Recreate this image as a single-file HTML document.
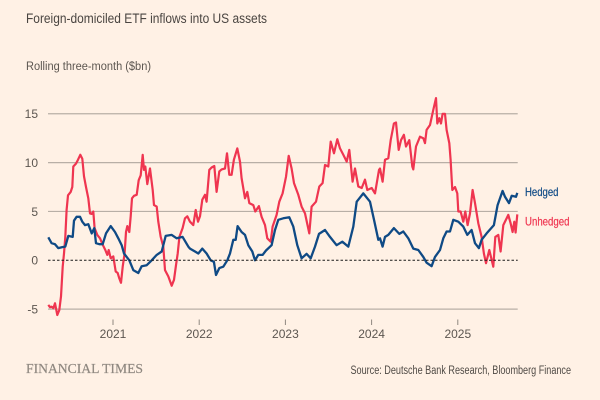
<!DOCTYPE html>
<html lang="en">
<head>
<meta charset="utf-8">
<title>Foreign-domiciled ETF inflows into US assets</title>
<style>
html,body{margin:0;padding:0;background:#fff1e5;}
svg{display:block;font-family:"Liberation Sans",sans-serif;}
</style>
</head>
<body>
<svg id="chart" width="600" height="400" viewBox="0 0 600 400" xmlns="http://www.w3.org/2000/svg">
  <rect x="0" y="0" width="600" height="400" fill="#fff1e5"/>
  <text x="26" y="23" font-size="13.5" fill="#4a4541" textLength="241" lengthAdjust="spacingAndGlyphs">Foreign-domiciled ETF inflows into US assets</text>
  <text x="26" y="70" font-size="11.5" fill="#5c5650" textLength="125" lengthAdjust="spacingAndGlyphs">Rolling three-month ($bn)</text>
  <g id="grid"></g>
  <g id="axis"></g>
  <g id="series"></g>
  <text x="525" y="196" font-size="12" fill="#0f4a85" stroke="#0f4a85" stroke-width="0.2" textLength="33.5" lengthAdjust="spacingAndGlyphs">Hedged</text>
  <text x="525" y="225.5" font-size="12" fill="#ef3550" stroke="#ef3550" stroke-width="0.2" textLength="44.5" lengthAdjust="spacingAndGlyphs">Unhedged</text>
  <text x="26" y="373" font-family="'Liberation Serif',serif" font-size="14" fill="#8f8880" stroke="#8f8880" stroke-width="0.2" textLength="117" lengthAdjust="spacingAndGlyphs">FINANCIAL TIMES</text>
  <text x="350.5" y="374" font-size="11.5" fill="#4f4a45" textLength="220.5" lengthAdjust="spacingAndGlyphs">Source: Deutsche Bank Research, Bloomberg Finance</text>
</svg>
<script>
const yTicks = [15, 10, 5, 0, -5];
const xTicks = [2021, 2022, 2023, 2024, 2025];

const unhedgedDates = [2020.25,2020.269,2020.288,2020.308,2020.327,2020.354,2020.377,2020.397,2020.416,2020.432,2020.447,2020.462,2020.478,2020.509,2020.528,2020.54,2020.571,2020.594,2020.621,2020.644,2020.664,2020.687,2020.714,2020.733,2020.753,2020.772,2020.787,2020.818,2020.849,2020.88,2020.911,2020.934,2020.95,2020.973,2021.004,2021.031,2021.054,2021.073,2021.093,2021.112,2021.135,2021.151,2021.166,2021.189,2021.205,2021.22,2021.244,2021.275,2021.298,2021.321,2021.344,2021.36,2021.375,2021.398,2021.429,2021.46,2021.476,2021.507,2021.526,2021.553,2021.584,2021.603,2021.642,2021.681,2021.708,2021.731,2021.75,2021.77,2021.808,2021.835,2021.862,2021.893,2021.932,2021.959,2021.986,2022.009,2022.036,2022.067,2022.086,2022.117,2022.144,2022.175,2022.202,2022.233,2022.26,2022.299,2022.322,2022.349,2022.376,2022.403,2022.442,2022.473,2022.492,2022.531,2022.558,2022.581,2022.628,2022.651,2022.693,2022.724,2022.763,2022.79,2022.829,2022.852,2022.898,2022.929,2022.968,2023.007,2023.038,2023.072,2023.1,2023.15,2023.188,2023.227,2023.277,2023.304,2023.355,2023.393,2023.432,2023.459,2023.498,2023.525,2023.564,2023.602,2023.633,2023.672,2023.711,2023.741,2023.78,2023.807,2023.846,2023.885,2023.923,2023.95,2024.001,2024.039,2024.086,2024.097,2024.128,2024.155,2024.194,2024.221,2024.259,2024.283,2024.314,2024.341,2024.375,2024.399,2024.437,2024.472,2024.484,2024.515,2024.561,2024.6,2024.619,2024.638,2024.677,2024.716,2024.747,2024.762,2024.785,2024.805,2024.824,2024.851,2024.87,2024.901,2024.917,2024.936,2024.967,2024.994,2025.006,2025.033,2025.064,2025.087,2025.114,2025.141,2025.172,2025.199,2025.238,2025.276,2025.303,2025.327,2025.365,2025.412,2025.435,2025.47,2025.497,2025.528,2025.586,2025.613,2025.636,2025.655,2025.671,2025.69];
const unhedgedValues = [-4.57,-4.8,-4.75,-4.9,-4.4,-5.6,-5.1,-3.7,-0.65,0.7,2.4,5.15,6.65,7,7.5,9.6,9.9,10.3,10.8,10.4,8.6,7.5,6.35,4.8,4.75,5,3.3,2.6,2.25,1.6,1.05,0.55,1.05,0.2,0.4,-1.15,-1.3,-1.85,-2.3,-0.65,0.7,2.9,3.5,2.9,4.5,6.35,6.6,6.7,8.2,8.7,10.8,9.25,9.6,7.8,9.4,7.2,5.65,5.5,3.95,2.4,1.4,-1,-1.65,-2.6,-2,-0.5,0.7,2.4,3.3,4.3,4.5,3.95,3.6,5.15,3.95,4.5,6.2,6.7,6,9.25,9.5,9.65,7,9.1,9.3,9.4,10.95,8.75,8.75,10.3,11.45,10.1,8.4,6.35,7,5.85,5.65,5,5.55,4.45,3.6,2.25,1.9,3.45,4.65,6,6.85,8.55,10.7,9.4,7.9,6.7,5.5,4.8,2.75,5.5,6,7.55,7.9,9.75,9.6,12.15,10.95,12.4,11.45,10.8,10.1,11.3,8.05,9.4,7.55,7.4,8.25,7.2,7.4,6.85,9.25,9.4,8.05,10.3,10.45,12.3,14,14.1,11.3,12.3,12.85,11.65,12.3,9.6,9.3,11.65,12.65,12.5,12,13.35,13.85,15.4,16.6,14,14.55,14,15,15,13.35,12,10.3,7.2,7.5,6.85,5,5,3.95,5,3.6,4.8,7.2,5.85,3.8,2.4,0.7,-0.3,1.05,-0.65,2.4,2.6,0.9,3.6,4.65,3.8,2.9,3.95,2.85,4.7];

const hedgedDates = [2020.25,2020.288,2020.327,2020.366,2020.412,2020.447,2020.482,2020.532,2020.548,2020.578,2020.617,2020.644,2020.675,2020.714,2020.753,2020.783,2020.803,2020.841,2020.88,2020.919,2020.973,2021.023,2021.062,2021.101,2021.128,2021.189,2021.236,2021.294,2021.333,2021.391,2021.449,2021.507,2021.565,2021.611,2021.681,2021.739,2021.808,2021.874,2021.893,2021.951,2021.99,2022.036,2022.086,2022.133,2022.171,2022.195,2022.233,2022.28,2022.326,2022.357,2022.396,2022.423,2022.446,2022.492,2022.531,2022.57,2022.616,2022.647,2022.686,2022.736,2022.775,2022.84,2022.879,2022.918,2022.976,2023.045,2023.092,2023.138,2023.188,2023.246,2023.293,2023.343,2023.39,2023.459,2023.517,2023.594,2023.66,2023.73,2023.788,2023.827,2023.904,2023.981,2024.028,2024.078,2024.097,2024.128,2024.155,2024.194,2024.259,2024.321,2024.368,2024.426,2024.484,2024.542,2024.6,2024.638,2024.696,2024.735,2024.793,2024.832,2024.87,2024.909,2024.948,2025.006,2025.064,2025.11,2025.16,2025.199,2025.245,2025.276,2025.334,2025.419,2025.462,2025.52,2025.547,2025.594,2025.625,2025.675,2025.69];
const hedgedValues = [2.35,1.75,1.65,1.25,1.35,1.4,2.5,2.4,4.05,4.45,4.45,3.95,3.6,3.7,2.75,3.3,1.75,1.65,1.65,2.75,3.5,2.9,2.25,1.55,0.7,0,-1,-1.3,-0.6,-0.5,0,0.55,0.9,2.5,2.6,2.25,2.4,1.4,1.2,0.9,0.7,1.2,0.7,0,-0.15,-1.5,-0.8,-0.65,0,0.7,2.1,2.1,3.5,2.9,2.6,1.55,0.9,0,0.55,0.55,1,1.55,3.1,4.15,4.3,4.4,3.45,1.55,0.2,0.65,0.2,1.4,2.7,3.1,2.4,1.55,1.9,1.4,3.45,6,6.85,6,4.15,2.1,2.25,1.4,2.4,2.6,3.3,2.7,2.95,2.25,1.2,1.05,0.35,-0.25,-0.6,0.35,1.05,2.25,2.95,2.95,4.15,3.95,3.45,2.6,3.1,1.75,1.25,2.1,2.75,3.6,5.65,7.1,6.5,5.85,6.6,6.5,6.9];

const NS = 'http://www.w3.org/2000/svg';
function xScale(year) { return 113 + (year - 2021) * 86.2; }
function yScale(value) { return 260.3 - value * 9.77; }
const plotLeft = xScale(2020.246);
const plotRight = xScale(2025.695);

const gridLayer = document.getElementById('grid');
const axisLayer = document.getElementById('axis');
const seriesLayer = document.getElementById('series');

function make(tag, attrs, parent) {
  const el = document.createElementNS(NS, tag);
  for (const k in attrs) el.setAttribute(k, attrs[k]);
  parent.appendChild(el);
  return el;
}

yTicks.forEach(function (t) {
  if (t !== 0) {
    const line = make('line', {x1: plotLeft, x2: plotRight, y1: yScale(t), y2: yScale(t), stroke: '#b8afa6', 'stroke-width': 1.2}, gridLayer);
    
    
  }
  const label = make('text', {x: 38, y: yScale(t) + 4.3, 'text-anchor': 'end', 'font-size': 12, fill: '#5c5650'}, axisLayer);
  label.textContent = t;
  
  
});

xTicks.forEach(function (t) {
  const tick = make('line', {x1: xScale(t), x2: xScale(t), y1: 319.5, y2: 325, stroke: '#8f8880', 'stroke-width': 1}, axisLayer);
  
  
  const label = make('text', {x: xScale(t), y: 338, 'text-anchor': 'middle', 'font-size': 12, fill: '#5c5650'}, axisLayer);
  label.textContent = t;
  
  
});

function toPoints(dates, values) {
  return dates.map(function (d, i) {
    return xScale(d).toFixed(1) + ',' + yScale(values[i]).toFixed(1);
  }).join(' ');
}

const unhedgedLine = make('polyline', {points: toPoints(unhedgedDates, unhedgedValues), fill: 'none', stroke: '#ef3550', 'stroke-width': 2.2, 'stroke-linejoin': 'round'}, seriesLayer);



const hedgedLine = make('polyline', {points: toPoints(hedgedDates, hedgedValues), fill: 'none', stroke: '#0f4a85', 'stroke-width': 2.3, 'stroke-linejoin': 'round'}, seriesLayer);



const zeroLine = make('line', {x1: plotLeft, x2: plotRight, y1: yScale(0), y2: yScale(0), stroke: '#1a1a1a', 'stroke-width': 1, 'stroke-dasharray': '2.5 2'}, seriesLayer);


</script>
</body>
</html>
